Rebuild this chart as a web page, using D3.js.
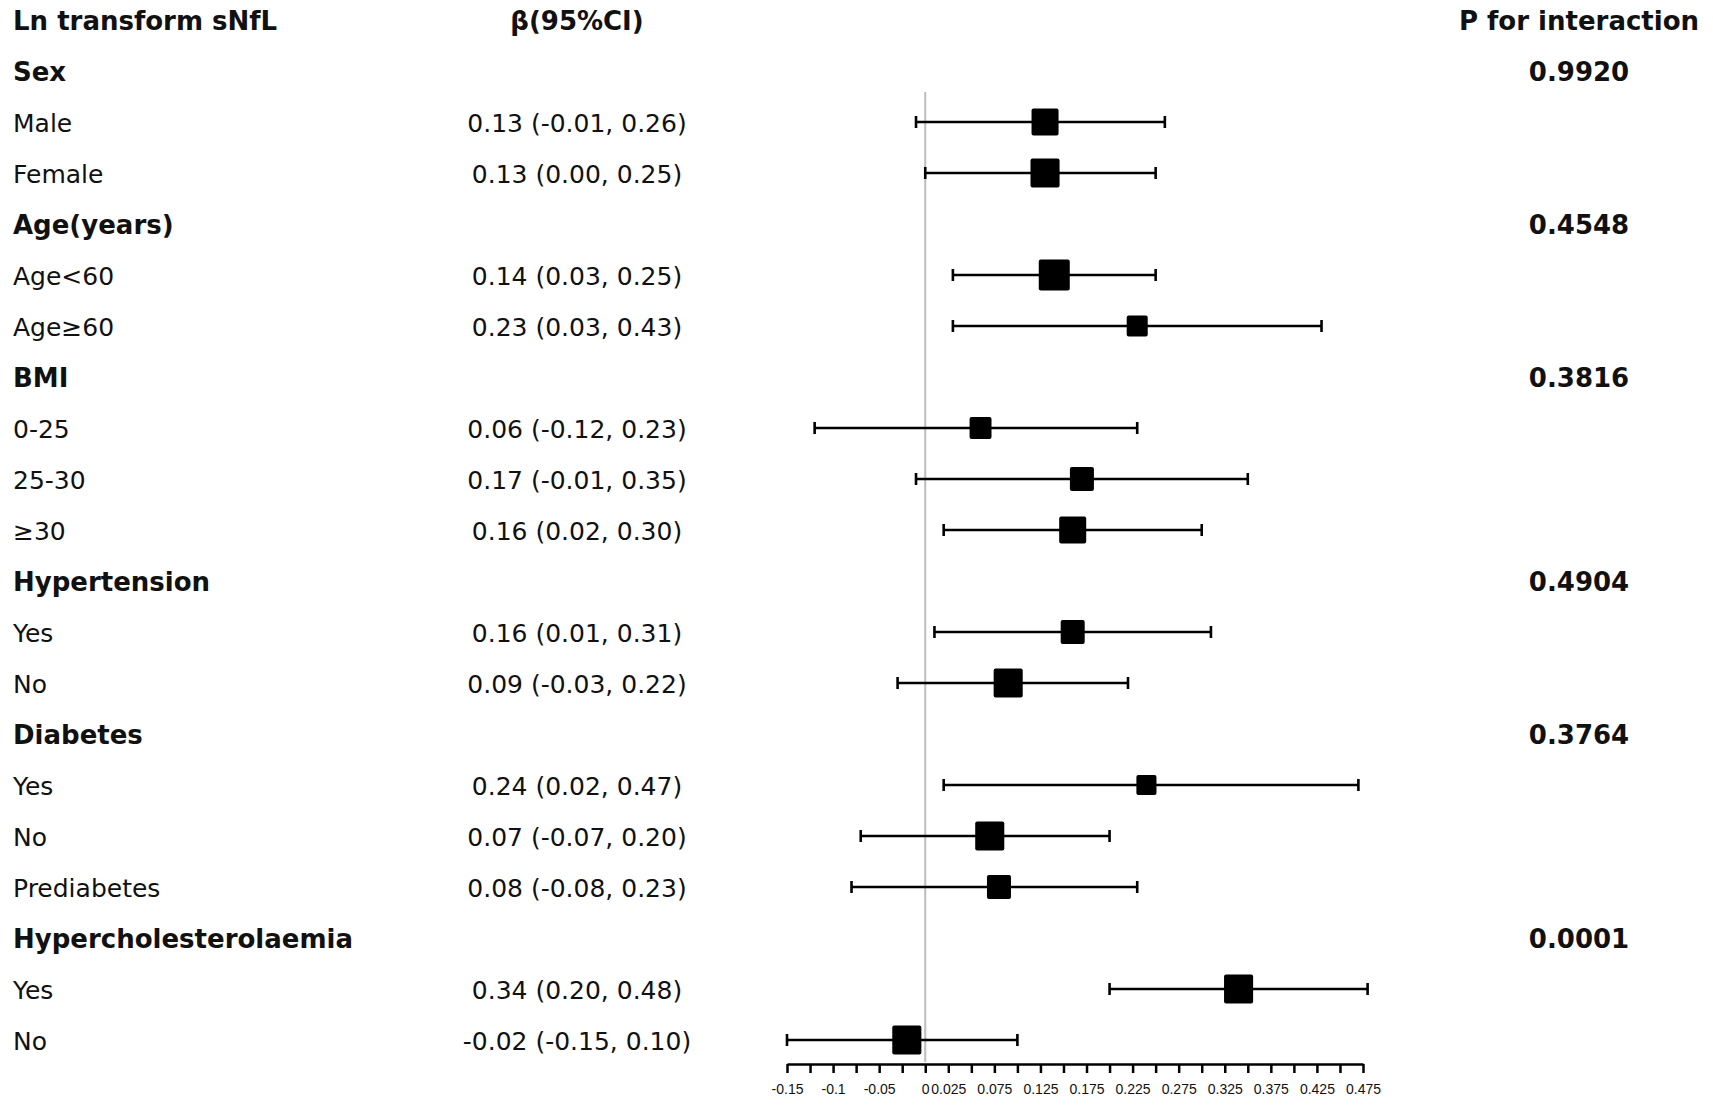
<!DOCTYPE html>
<html>
<head>
<meta charset="utf-8">
<script src="https://cdn.jsdelivr.net/npm/d3@7"></script>
<style>
  html, body { margin: 0; padding: 0; background: #fff; }
  svg { display: block; }
  text { fill: #111; }
</style>
</head>
<body>
<svg id="forest" width="1713" height="1108"></svg>
<script>
// data
const groups = ["Sex", "Age(years)", "BMI", "Hypertension", "Diabetes", "Hypercholesterolaemia"];
const pInteraction = ["0.9920", "0.4548", "0.3816", "0.4904", "0.3764", "0.0001"];
const subgroups = [
  ["Male", "Female"],
  ["Age<60", "Age≥60"],
  ["0-25", "25-30", "≥30"],
  ["Yes", "No"],
  ["Yes", "No", "Prediabetes"],
  ["Yes", "No"]
];
const beta  = [0.13, 0.13, 0.14, 0.23, 0.06, 0.17, 0.16, 0.16, 0.09, 0.24, 0.07, 0.08, 0.34, -0.02];
const lower = [-0.01, 0.00, 0.03, 0.03, -0.12, -0.01, 0.02, 0.01, -0.03, 0.02, -0.07, -0.08, 0.20, -0.15];
const upper = [0.26, 0.25, 0.25, 0.43, 0.23, 0.35, 0.30, 0.31, 0.22, 0.47, 0.20, 0.23, 0.48, 0.10];
// relative weight of each estimate (box area)
const weight = [76, 88, 100, 46, 50, 60, 76, 60, 88, 42, 88, 60, 88, 88];

const tickMarks = [-0.15, -0.125, -0.1, -0.075, -0.05, -0.025, 0, 0.025, 0.05, 0.075, 0.1, 0.125, 0.15,
  0.175, 0.2, 0.225, 0.25, 0.275, 0.3, 0.325, 0.35, 0.375, 0.4, 0.425, 0.45, 0.475];
const tickLabels = ["-0.15", "-0.1", "-0.05", "0", "0.025", "0.075", "0.125", "0.175", "0.225",
  "0.275", "0.325", "0.375", "0.425", "0.475"];

const headers = ["Ln transform sNfL", "β(95%CI)", "P for interaction"];

// build the row table: group heading rows then subgroup rows
let rows = [];
let k = 0;
groups.forEach((g, gi) => {
  rows.push({ type: "group", label: g, p: pInteraction[gi] });
  subgroups[gi].forEach(s => {
    rows.push({ type: "sub", label: s, est: beta[k], lo: lower[k], hi: upper[k], w: weight[k] });
    k++;
  });
});

const width = 1713, height = 1108;
const colLabel = 13, colBeta = 577, colP = 1579;
const font = "'DejaVu Sans', Verdana, sans-serif";

const svg = d3.select("#forest");

const x = d3.scaleLinear().domain([-0.15, 0.475]).range([787, 1363]);
const y = d3.scaleLinear().domain([0, rows.length]).range([20, 20 + 51 * rows.length]);
const box = d3.scaleSqrt().domain([0, 100]).range([0, 31]);

// header row
svg.append("text")
  .attr("x", colLabel).attr("y", y(0) + 10)
  .attr("font-family", font).attr("font-weight", "bold").attr("font-size", 26)
  .text(headers[0]);
svg.append("text")
  .attr("x", colBeta).attr("y", y(0) + 10)
  .attr("text-anchor", "middle")
  .attr("font-family", font).attr("font-weight", "bold").attr("font-size", 26)
  .text(headers[1]);
svg.append("text")
  .attr("x", colP).attr("y", y(0) + 10)
  .attr("text-anchor", "middle")
  .attr("font-family", font).attr("font-weight", "bold").attr("font-size", 26)
  .text(headers[2]);

// reference line at zero
svg.append("line")
  .attr("x1", x(0)).attr("x2", x(0))
  .attr("y1", 92).attr("y2", 1062)
  .attr("stroke", "#bdbdbd").attr("stroke-width", 2);

// label column
const rowG = svg.append("g").selectAll("g")
  .data(rows)
  .join("g")
    .attr("transform", (d, i) => `translate(0,${y(i + 1)})`);

rowG.append("text")
  .attr("x", colLabel)
  .attr("y", 10)
  .attr("font-family", font)
  .attr("font-size", d => d.type === "group" ? 26 : 25)
  .attr("font-weight", d => d.type === "group" ? "bold" : "normal")
  .text(d => d.label);

rowG.filter(d => d.type === "group").append("text")
  .attr("x", colP)
  .attr("y", 10)
  .attr("text-anchor", "middle")
  .attr("font-family", font)
  .attr("font-size", 26)
  .attr("font-weight", "bold")
  .text(d => d.p);

const subs = rowG.filter(d => d.type === "sub");

subs.append("text")
  .attr("x", colBeta)
  .attr("y", 10)
  .attr("text-anchor", "middle")
  .attr("font-family", font)
  .attr("font-size", 25)
  .text(d => `${d.est.toFixed(2)} (${d.lo.toFixed(2)}, ${d.hi.toFixed(2)})`);

// CI whiskers
subs.append("line")
  .attr("x1", d => x(d.lo)).attr("x2", d => x(d.hi))
  .attr("y1", 0).attr("y2", 0)
  .attr("stroke", "#000").attr("stroke-width", 2.6);

subs.selectAll("line.cap")
  .data(d => [d.lo, d.hi])
  .join("line")
    .attr("class", "cap")
    .attr("x1", v => x(v)).attr("x2", v => x(v))
    .attr("y1", -6).attr("y2", 6)
    .attr("stroke", "#000").attr("stroke-width", 2.6);

// estimate boxes
subs.append("rect")
  .attr("x", d => x(d.est) - box(d.w) / 2)
  .attr("y", d => -box(d.w) / 2)
  .attr("width", d => box(d.w))
  .attr("height", d => box(d.w))
  .attr("rx", 2)
  .attr("fill", "#000");

// x axis
const labelled = v => tickLabels.find(t => Math.abs(+t - v) < 1e-6);

const axis = svg.append("g")
  .attr("transform", `translate(0,1064)`)
  .call(d3.axisBottom(x)
    .tickValues(tickMarks)
    .tickSize(9)
    .tickSizeOuter(0)
    .tickPadding(11)
    .tickFormat(v => labelled(v) || ""));

axis.select(".domain").attr("stroke", "#000").attr("stroke-width", 2.5);
axis.selectAll(".tick line").attr("stroke", "#000").attr("stroke-width", 2.5);
axis.selectAll(".tick text")
  .attr("font-family", "'Liberation Sans', Arial, sans-serif")
  .attr("font-size", 14)
  .attr("fill", "#222");
</script>
</body>
</html>
